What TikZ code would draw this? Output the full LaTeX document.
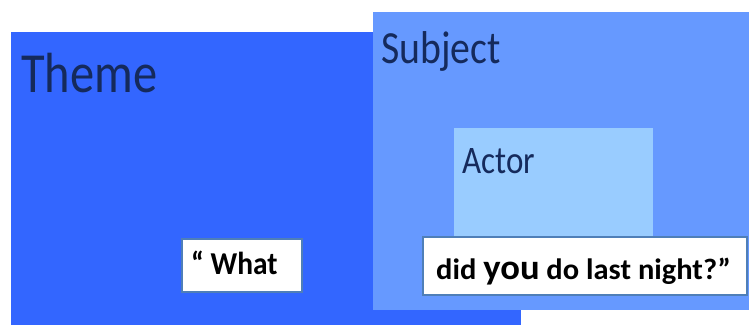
\documentclass[tikz,border=0pt]{standalone}
\usepackage{fontspec}
\setmainfont{Carlito}
\definecolor{themeblue}{HTML}{3366FF}
\definecolor{subjblue}{HTML}{6699FF}
\definecolor{actorblue}{HTML}{99CCFF}
\definecolor{labelnavy}{HTML}{152A5C}
\definecolor{boxedge}{HTML}{4F7FB8}
\tikzset{
  area/.style={anchor=north west, inner sep=0pt, outer sep=0pt, draw=none},
  label/.style={anchor=base west, inner sep=0pt, text=labelnavy},
  wordbox/.style={anchor=north west, inner sep=0pt, outer sep=0pt, fill=white, draw=boxedge, line width=1.5pt},
  words/.style={anchor=base west, inner sep=0pt, text=black, font=\bfseries}
}
\begin{document}
\begin{tikzpicture}[x=1pt,y=-1pt]
\useasboundingbox (0,0) rectangle (749,324);
\node[area, fill=themeblue, minimum width=510pt, minimum height=300pt] (theme) at (11,32) {};
\node[area, fill=subjblue, minimum width=380pt, minimum height=298pt] (subject) at (373,12) {};
\node[area, fill=actorblue, minimum width=199pt, minimum height=110pt] (actor) at (454,128) {};
\node[label, font=\fontsize{48}{50}\selectfont] (themelbl) at (21,92) {\scalebox{1.01}[1.18]{Theme}};
\node[label, font=\fontsize{39}{41}\selectfont] (subjlbl) at (381,63) {\scalebox{1.02}[1.18]{Subject}};
\node[label, font=\fontsize{33}{35}\selectfont] (actorlbl) at (462,173) {\scalebox{1}[1.18]{Actor}};
\node[wordbox, minimum width=120pt, minimum height=53pt] (box1) at (182,239) {};
\node[wordbox, minimum width=324pt, minimum height=58pt] (box2) at (423,237) {};
\node[words, font=\bfseries\fontsize{27}{29}\selectfont] (what) at (191,274) {\scalebox{1.09}[1.18]{“ What}};
\node[words, font=\bfseries\fontsize{25}{27}\selectfont] (rest) at (436,279) {\scalebox{1.22}[1.18]{did {\fontsize{30}{32}\selectfont you} do last night?”}};
\end{tikzpicture}
\end{document}
